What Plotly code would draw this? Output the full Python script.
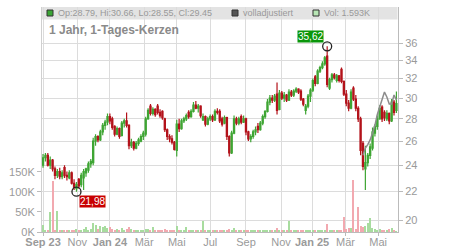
import math
import pandas as pd
import plotly.graph_objects as go

# ---------------- data ----------------
HOLIDAYS = ["2023-12-25", "2023-12-26", "2024-01-01", "2024-03-29", "2024-04-01",
            "2024-05-01", "2024-12-24", "2024-12-25", "2024-12-26", "2024-12-31",
            "2025-01-01", "2025-04-18", "2025-04-21", "2025-05-01"]
START = "2023-08-31"
DAYS_PER_CANDLE = 3

opens = [24.0, 24.6, 24.8, 24.0, 24.4, 23.7, 23.2, 23.5, 23.1, 23.8,
         23.2, 23.0, 23.4, 22.6, 22.2, 22.9, 22.5, 23.0, 23.4, 23.6,
         24.1, 24.2, 26.0, 26.4, 26.1, 26.8, 27.4, 27.7, 28.2, 28.0,
         27.3, 26.6, 27.1, 26.5, 27.6, 27.8, 27.4, 25.6, 25.9, 25.4,
         25.8, 26.0, 26.4, 26.6, 28.0, 29.2, 28.5, 28.9, 29.2, 28.6,
         28.7, 28.0, 27.0, 26.4, 26.2, 25.9, 25.2, 27.5, 27.1, 27.8,
         28.0, 28.6, 28.2, 28.7, 29.3, 29.0, 29.2, 27.9, 28.2, 27.5,
         28.0, 28.2, 27.9, 28.7, 28.7, 28.0, 27.6, 28.1, 26.4, 25.0,
         26.7, 28.0, 27.6, 28.2, 27.7, 28.0, 26.8, 26.2, 26.4, 26.8,
         27.3, 27.0, 27.6, 28.2, 28.7, 29.6, 30.0, 29.8, 30.4, 28.9,
         30.5, 30.0, 30.3, 29.8, 30.6, 30.3, 30.7, 30.9, 30.7, 29.9,
         28.8, 29.2, 30.2, 30.8, 32.2, 31.5, 32.8, 33.2, 33.6, 34.5,
         31.0, 31.9, 32.4, 31.8, 32.3, 33.0, 31.7, 30.4, 29.5, 29.0,
         31.0, 29.9, 29.0, 28.0, 25.8, 23.7, 24.2, 24.8, 25.4, 26.7,
         27.3, 28.0, 29.1, 28.6, 28.0, 28.5, 27.8, 29.6, 28.79]
highs = [24.9, 25.0, 25.0, 24.7, 24.5, 23.9, 23.7, 23.8, 23.6, 24.0,
         23.5, 23.6, 23.5, 22.9, 22.7, 23.0, 23.4, 23.7, 23.8, 24.3,
         24.5, 26.3, 26.6, 26.5, 27.0, 27.6, 27.9, 28.5, 28.5, 28.2,
         27.4, 27.3, 27.2, 27.8, 28.0, 28.6, 27.5, 26.2, 26.0, 26.0,
         26.3, 26.6, 26.9, 28.2, 29.0, 29.4, 29.1, 29.0, 29.4, 28.9,
         28.8, 28.1, 27.1, 26.6, 26.5, 26.0, 27.9, 28.0, 28.0, 28.2,
         28.5, 28.8, 28.9, 29.6, 29.7, 29.4, 29.3, 28.5, 28.3, 28.2,
         28.4, 28.4, 28.9, 29.0, 28.9, 28.2, 28.3, 28.2, 26.5, 26.9,
         28.3, 28.2, 28.2, 28.4, 28.3, 28.1, 26.9, 26.6, 27.0, 27.3,
         27.6, 27.8, 28.4, 28.8, 29.9, 30.3, 30.3, 30.4, 31.6, 30.8,
         30.7, 30.6, 30.4, 30.9, 30.8, 30.9, 31.1, 31.0, 30.9, 30.0,
         29.4, 30.4, 31.0, 32.0, 32.4, 33.0, 33.4, 33.9, 34.5, 35.62,
         32.1, 32.6, 32.6, 32.5, 32.4, 33.2, 31.8, 30.8, 29.8, 30.9,
         31.2, 30.3, 29.2, 28.2, 26.0, 25.6, 25.0, 25.8, 27.2, 27.5,
         28.3, 29.3, 29.3, 28.8, 28.8, 28.6, 29.9, 29.8, 30.66]
lows = [23.8, 24.3, 23.9, 23.7, 23.5, 22.9, 23.0, 22.9, 22.9, 23.0,
        22.8, 22.9, 22.5, 22.1, 21.98, 22.2, 22.3, 22.1, 23.1, 23.4,
        23.8, 24.0, 25.6, 25.9, 26.0, 26.5, 27.0, 27.4, 27.5, 27.0,
        26.4, 26.5, 26.2, 26.4, 27.2, 27.2, 25.3, 25.4, 25.2, 25.3,
        25.6, 25.9, 26.1, 26.4, 27.9, 28.3, 28.3, 28.2, 28.4, 28.1,
        27.9, 26.8, 26.1, 25.9, 25.7, 25.2, 24.7, 26.8, 27.0, 27.6,
        27.8, 28.0, 28.1, 28.6, 28.9, 28.6, 28.1, 27.8, 27.3, 27.4,
        27.8, 27.7, 27.8, 28.4, 27.6, 27.3, 27.5, 26.1, 24.7, 24.9,
        26.6, 27.4, 27.4, 27.5, 27.6, 26.5, 26.0, 25.9, 26.2, 26.5,
        26.7, 26.9, 27.4, 28.0, 28.6, 29.3, 29.5, 29.6, 28.4, 28.8,
        29.8, 29.6, 29.6, 29.7, 30.1, 30.1, 30.5, 30.4, 29.7, 29.2,
        28.4, 29.0, 29.6, 30.6, 31.2, 31.4, 32.6, 33.0, 33.4, 31.1,
        30.8, 31.6, 31.9, 31.6, 31.6, 31.5, 30.2, 29.2, 28.7, 28.9,
        29.7, 28.7, 27.7, 24.8, 23.6, 22.1, 23.9, 24.5, 25.2, 26.4,
        27.0, 27.9, 27.7, 27.8, 27.8, 27.5, 27.7, 28.3, 28.55]
closes = [24.6, 24.8, 24.0, 24.4, 23.7, 23.2, 23.5, 23.1, 23.4, 23.2,
          23.1, 23.4, 22.6, 22.3, 22.5, 22.4, 23.2, 23.5, 23.7, 24.1,
          24.3, 26.0, 26.4, 26.1, 26.8, 27.4, 27.7, 28.2, 27.8, 27.2,
          26.6, 27.1, 26.4, 27.6, 27.8, 27.4, 25.6, 25.9, 25.4, 25.8,
          26.1, 26.4, 26.7, 28.0, 28.8, 28.5, 28.9, 28.4, 28.6, 28.3,
          28.1, 27.0, 26.4, 26.2, 25.9, 25.3, 27.5, 27.1, 27.8, 28.0,
          28.3, 28.2, 28.7, 29.3, 29.0, 29.2, 28.3, 28.2, 27.5, 28.0,
          28.2, 27.9, 28.7, 28.6, 27.8, 27.5, 28.1, 26.4, 25.0, 26.7,
          28.0, 27.6, 28.0, 27.7, 28.0, 26.8, 26.2, 26.4, 26.8, 27.0,
          27.0, 27.6, 28.2, 28.7, 29.6, 30.0, 29.8, 30.2, 28.8, 30.5,
          30.0, 30.3, 29.8, 30.6, 30.3, 30.7, 30.9, 30.6, 29.9, 29.4,
          29.2, 30.2, 30.8, 31.8, 31.5, 32.8, 33.2, 33.6, 34.3, 31.4,
          31.9, 32.4, 32.1, 32.3, 31.8, 31.7, 30.4, 29.5, 29.0, 30.6,
          29.9, 29.0, 28.0, 25.2, 23.9, 24.2, 24.8, 25.5, 26.8, 27.3,
          28.0, 29.0, 28.0, 28.1, 28.5, 27.8, 29.6, 28.6, 29.45]
volumes_k = [17, 6, 5, 50, 127, 6, 52, 5, 4, 6,
             4, 5, 6, 4, 7, 5, 6, 8, 13, 6,
             7, 23, 18, 8, 14, 12, 16, 10, 12, 8,
             6, 7, 5, 9, 6, 8, 12, 7, 6, 5,
             6, 5, 4, 8, 7, 5, 13, 6, 5, 4,
             6, 7, 5, 4, 5, 6, 15, 5, 4, 6,
             12, 5, 4, 6, 5, 4, 5, 28, 5, 6,
             4, 3, 5, 4, 3, 4, 5, 4, 7, 6,
             10, 4, 5, 3, 4, 3, 4, 3, 4, 5,
             3, 4, 3, 4, 5, 4, 3, 4, 10, 6,
             5, 4, 6, 28, 5, 4, 6, 5, 4, 3,
             5, 4, 6, 6, 5, 4, 3, 5, 4, 19,
             6, 5, 4, 5, 4, 6, 37, 8, 11, 9,
             130, 8, 62, 14, 12, 15, 22, 34, 10, 8,
             6, 7, 5, 6, 4, 8, 10, 5, 1.6]
# "volladjustiert" line, visible over the last candles
adj_close_tail = [24.8, 25.4, 25.7, 26.1, 26.7, 27.4, 28.4, 29.2, 30.0,
                  30.6, 30.1, 29.4, 29.4, 30.3, 29.8]

month_starts = ["2023-09-01", "2023-11-01", "2024-01-01", "2024-03-01", "2024-05-01",
                "2024-07-01", "2024-09-01", "2024-11-01", "2025-01-01", "2025-03-01",
                "2025-05-01"]
month_labels = ["<b>Sep 23</b>", "Nov", "<b>Jan 24</b>", "Mär", "Mai", "Jul", "Sep",
                "Nov", "<b>Jan 25</b>", "Mär", "Mai"]
price_ticks = [20, 22, 24, 26, 28, 30, 32, 34, 36]
vol_ticks = [0, 50, 100, 150]
vol_tick_labels = ["0K", "50K", "100K", "150K"]

header_ohlc = "Op:28.79, Hi:30.66, Lo:28.55, Cl:29.45"
header_adj = "volladjustiert"
header_vol = "Vol: 1.593K"
title_text = "1 Jahr, 1-Tages-Kerzen"

# ---------------- geometry ----------------
W, H = 450, 250
ML, MR, MT, MB = 42, 52, 7, 18
PW, PH = W - ML - MR, H - MT - MB


def fx(px):
    return (px - ML) / PW


def fy(py):
    return (H - MB - py) / PH


days = pd.bdate_range(START, "2025-08-29", freq="C", holidays=HOLIDAYS)
N = len(opens)
xs = [DAYS_PER_CANDLE * i + 1 for i in range(N)]
tick_pos = [int(days.searchsorted(pd.Timestamp(m))) for m in month_starts]

GREEN = "#3ea533"
RED = "#b3121a"
VGREEN = "#a8dc9f"
VRED = "#f2a9b0"

vol_colors = [VGREEN if c >= o else VRED for o, c in zip(opens, closes)]

imax = max(range(N), key=lambda i: highs[i])
imin = min(range(N), key=lambda i: lows[i])

fig = go.Figure()
fig.add_trace(go.Bar(x=xs, y=volumes_k, marker=dict(color=vol_colors, line=dict(width=0)),
                     width=1.4, yaxis="y", hoverinfo="skip"))
fig.add_trace(go.Scatter(x=xs[-len(adj_close_tail):], y=adj_close_tail, mode="lines",
                         line=dict(color="#8c8c8c", width=1.5), yaxis="y2", hoverinfo="skip"))
fig.add_trace(go.Candlestick(
    x=xs, open=opens, high=highs, low=lows, close=closes, yaxis="y2",
    increasing=dict(line=dict(color=GREEN, width=1.2), fillcolor=GREEN),
    decreasing=dict(line=dict(color=RED, width=1.2), fillcolor=RED),
    whiskerwidth=0, hoverinfo="skip"))
fig.add_trace(go.Scatter(x=[xs[imax], xs[imin]], y=[highs[imax], lows[imin]], mode="markers",
                         marker=dict(symbol="circle-open", size=9, color="#222",
                                     line=dict(width=1.3, color="#222")),
                         yaxis="y2", hoverinfo="skip"))

shapes = [
    dict(type="rect", xref="paper", yref="paper", x0=fx(42), x1=fx(397.5), y0=fy(19.5), y1=1.0,
         fillcolor="#e3e3e3", line=dict(width=0), layer="below"),
    dict(type="rect", xref="paper", yref="paper", x0=fx(47), x1=fx(53), y0=fy(16), y1=fy(10),
         fillcolor="#3aa534", line=dict(width=1, color="#333")),
    dict(type="rect", xref="paper", yref="paper", x0=fx(232), x1=fx(238), y0=fy(16), y1=fy(10),
         fillcolor="#555", line=dict(width=1, color="#333")),
    dict(type="rect", xref="paper", yref="paper", x0=fx(313), x1=fx(319), y0=fy(16), y1=fy(10),
         fillcolor="#b8e6b5", line=dict(width=1, color="#333")),
]

hdr_font = dict(family="Liberation Sans, Arial, sans-serif", size=9, color="#999")
annotations = [
    dict(xref="paper", yref="paper", x=fx(55.5), y=fy(13), text=header_ohlc, showarrow=False,
         xanchor="left", yanchor="middle", font=hdr_font),
    dict(xref="paper", yref="paper", x=fx(240.5), y=fy(13), text=header_adj, showarrow=False,
         xanchor="left", yanchor="middle", font=hdr_font),
    dict(xref="paper", yref="paper", x=fx(321.5), y=fy(13), text=header_vol, showarrow=False,
         xanchor="left", yanchor="middle", font=hdr_font),
    dict(xref="paper", yref="paper", x=fx(46.5), y=fy(30), text="<b>" + title_text + "</b>",
         showarrow=False, xanchor="left", yanchor="middle",
         font=dict(family="Liberation Sans, Arial, sans-serif", size=12, color="#8a8a8a")),
    dict(xref="x", yref="y2", x=xs[imax], y=math.log10(highs[imax]),
         text=f"{highs[imax]:.2f}".replace(".", ","), showarrow=False,
         xanchor="right", yanchor="bottom", xshift=-3, yshift=3, bgcolor="#0a960a",
         borderpad=0, font=dict(family="Liberation Sans, Arial, sans-serif", size=10, color="#ffffff")),
    dict(xref="x", yref="y2", x=xs[imin], y=math.log10(lows[imin]),
         text=f"{lows[imin]:.2f}".replace(".", ","), showarrow=False,
         xanchor="left", yanchor="top", xshift=3, yshift=-3, bgcolor="#c80000",
         borderpad=0, font=dict(family="Liberation Sans, Arial, sans-serif", size=10, color="#ffffff")),
]

tick_font = dict(family="Liberation Sans, Arial, sans-serif", size=11, color="#9a9a9a")
fig.update_layout(
    width=W, height=H, margin=dict(l=ML, r=MR, t=MT, b=MB, pad=0, autoexpand=False),
    paper_bgcolor="white", plot_bgcolor="white", showlegend=False, bargap=0,
    shapes=shapes, annotations=annotations,
    xaxis=dict(range=[-0.3, 447], tickvals=tick_pos, ticktext=month_labels, showgrid=True,
               gridcolor="#dcdcdc", gridwidth=1, ticks="outside", ticklen=3, tickcolor="#bbb",
               showline=True, linecolor="#bbb", linewidth=1, zeroline=False, automargin=False,
               ticklabelstandoff=-3,
               tickfont=tick_font, rangeslider=dict(visible=False), fixedrange=True),
    yaxis=dict(side="left", range=[0, 562], tickvals=vol_ticks, ticktext=vol_tick_labels,
               showgrid=False, zeroline=False, ticks="outside", ticklen=4, tickcolor="#bbb",
               showline=True, linecolor="#d0d0d0", linewidth=1, tickfont=tick_font,
               automargin=False),
    yaxis2=dict(overlaying="y", side="right", type="log",
                range=[math.log10(19.22), math.log10(40.6)], tickvals=price_ticks,
                ticktext=[str(t) for t in price_ticks], showgrid=True, gridcolor="#dcdcdc",
                gridwidth=1, zeroline=False, ticks="outside", ticklen=4, tickcolor="#bbb",
                showline=True, linecolor="#bbb", linewidth=1, tickfont=tick_font,
                automargin=False),
)

fig.write_html("out.html")
